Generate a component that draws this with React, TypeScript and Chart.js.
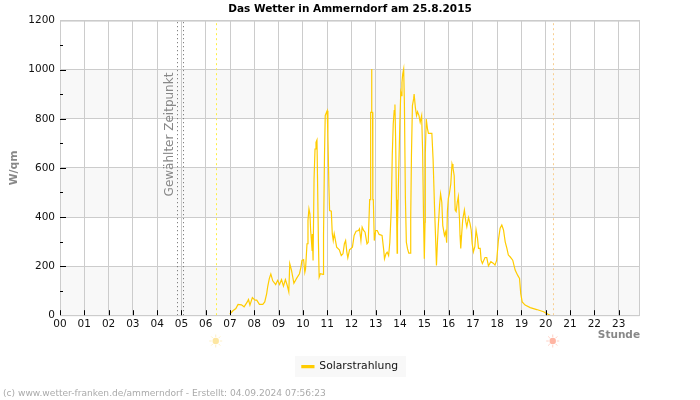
import React, { useEffect, useRef } from "react";
import { Chart, registerables } from "chart.js";

Chart.register(...registerables);

const hours = [
  6.99, 7.12, 7.24, 7.33, 7.47, 7.58, 7.71, 7.76, 7.82, 7.92, 8.03, 8.1, 8.21, 8.35, 8.43, 8.51, 8.55, 8.62, 8.68, 8.76,
  8.88, 8.96, 9.04, 9.12, 9.2, 9.28, 9.36, 9.42, 9.46, 9.53, 9.63, 9.74,
  9.86, 9.92, 9.96, 10.03, 10.08, 10.11, 10.17, 10.21, 10.25, 10.29, 10.32, 10.38, 10.39, 10.42, 10.46, 10.5, 10.54, 10.58, 10.6, 10.64,
  10.67, 10.72, 10.83, 10.85, 10.89, 10.92, 10.97, 11.0, 11.03, 11.07, 11.1, 11.17, 11.21, 11.25, 11.29, 11.33, 11.39, 11.5, 11.58, 11.65,
  11.71, 11.76, 11.81, 11.85, 11.92, 12.04, 12.11, 12.19, 12.29, 12.33, 12.39, 12.44, 12.5, 12.56, 12.64, 12.69, 12.75, 12.78, 12.79, 12.82,
  12.83, 12.84, 12.87, 12.88, 12.9, 12.94, 13.0, 13.06, 13.14, 13.26, 13.33, 13.36, 13.42, 13.47, 13.53, 13.58, 13.64, 13.68, 13.72, 13.76,
  13.79, 13.82, 13.85, 13.88, 13.89, 13.9, 13.94, 13.99, 14.03, 14.06, 14.08, 14.11, 14.15, 14.18, 14.22, 14.26, 14.31, 14.36, 14.42, 14.44,
  14.47, 14.51, 14.56, 14.58, 14.63, 14.68, 14.72, 14.78, 14.83, 14.89, 14.93, 14.97, 15.0, 15.03, 15.04, 15.08, 15.13, 15.17, 15.31, 15.36,
  15.42, 15.47, 15.5, 15.54, 15.58, 15.63, 15.67, 15.72, 15.76, 15.83, 15.88, 15.92, 15.95, 15.99, 16.03, 16.09, 16.14, 16.18, 16.23, 16.27,
  16.31, 16.36, 16.4, 16.45, 16.47, 16.5, 16.54, 16.58, 16.65, 16.71, 16.75, 16.82, 16.88, 16.93, 16.97, 17.02, 17.08, 17.13, 17.19, 17.23,
  17.3, 17.34, 17.39, 17.5, 17.57, 17.64, 17.74, 17.85, 17.91, 17.98, 18.05, 18.12, 18.19, 18.26, 18.33, 18.4, 18.46, 18.53, 18.64, 18.74,
  18.84, 18.92, 18.97, 19.03, 19.15, 19.36, 19.63, 19.91, 20.11, 20.18,
];
const solar = [
  4, 18, 27, 44, 42, 34, 54, 64, 41, 72, 61, 61, 44, 44, 54, 88, 115, 150, 168, 140,
  125, 142, 125, 145, 118, 145, 120, 95, 210, 184, 130, 150,
  169, 196, 223, 226, 175, 189, 291, 386, 433, 413, 345, 264, 331, 223, 555, 677, 704, 714, 575, 297,
  155, 169, 166, 325, 650, 813, 826, 833, 732, 528, 426, 424, 332, 304, 332, 311, 277, 266, 243, 250,
  291, 304, 257, 234, 266, 277, 325, 342, 345, 352, 304, 359, 345, 338, 291, 297, 471, 471, 826, 826,
  1003, 826, 826, 471, 471, 304, 345, 345, 329, 325, 264, 230, 250, 257, 243, 297, 433, 650, 779, 833,
  858, 711, 480, 253, 470, 359, 562, 772, 908, 894, 948, 982, 1003, 860, 481, 297, 270, 253, 253, 399,
  650, 854, 881, 901, 847, 813, 829, 813, 786, 813, 670, 379, 230, 379, 657, 799, 759, 741, 741, 637,
  440, 297, 203, 297, 372, 451, 494, 460, 365, 325, 340, 295, 422, 476, 494, 535, 616, 600, 568, 428,
  422, 462, 483, 388, 326, 272, 333, 388, 428, 380, 360, 398, 374, 347, 292, 258, 279, 347, 313, 272,
  272, 224, 211, 235, 235, 201, 218, 211, 204, 224, 306, 354, 367, 347, 299, 272, 245, 238, 224, 184,
  163, 150, 88, 54, 41, 31, 23, 14, 3, 0,
];
const selectedTimes = [4.838, 5.085];
const sunrise = 6.443;
const sunset = 20.318;
const bandRanges = [[800, 1000], [400, 600], [0, 200]];
const titleText = "Das Wetter in Ammerndorf am 25.8.2015";
const seriesName = "Solarstrahlung";
const markerLabel = "Gewählter Zeitpunkt";
const yTitle = "W/qm";
const xTitle = "Stunde";
const footerText = "(c) www.wetter-franken.de/ammerndorf - Erstellt: 04.09.2024 07:56:23";
const FONT = "'DejaVu Sans'";

function drawSun(ctx: CanvasRenderingContext2D, x: number, y: number, core: string, ray: string) {
  ctx.save();
  ctx.strokeStyle = ray;
  ctx.lineWidth = 1;
  for (let i = 0; i < 8; i++) {
    const a = (i * Math.PI) / 4;
    ctx.beginPath();
    ctx.moveTo(x + Math.cos(a) * 4, y + Math.sin(a) * 4);
    ctx.lineTo(x + Math.cos(a) * 6.5, y + Math.sin(a) * 6.5);
    ctx.stroke();
  }
  ctx.fillStyle = core;
  ctx.beginPath();
  ctx.arc(x, y, 3.2, 0, Math.PI * 2);
  ctx.fill();
  ctx.restore();
}

const decor = {
  id: "decor",
  beforeDraw(chart: any) {
    const { ctx, chartArea: a, scales } = chart;
    ctx.save();
    ctx.fillStyle = "#f8f8f8";
    for (const [lo, hi] of bandRanges) {
      const top = scales.y.getPixelForValue(hi);
      ctx.fillRect(a.left, top, a.right - a.left, scales.y.getPixelForValue(lo) - top);
    }
    ctx.fillRect(295, 356, 111, 21);
    ctx.restore();
  },
  afterDatasetsDraw(chart: any) {
    const { ctx, chartArea: a, scales } = chart;
    ctx.save();
    ctx.strokeStyle = "#cccccc";
    ctx.lineWidth = 1;
    ctx.beginPath();
    ctx.moveTo(a.left + 0.5, a.top + 0.5);
    ctx.lineTo(a.right - 0.5, a.top + 0.5);
    ctx.lineTo(a.right - 0.5, a.bottom + 0.5);
    ctx.lineTo(a.left + 0.5, a.bottom + 0.5);
    ctx.closePath();
    ctx.stroke();
    ctx.strokeStyle = "#000000";
    ctx.beginPath();
    for (const t of scales.x.ticks) {
      const x = Math.round(scales.x.getPixelForValue(t.value)) + 0.5;
      ctx.moveTo(x, a.bottom);
      ctx.lineTo(x, a.bottom - 5);
    }
    for (const t of scales.y.ticks) {
      const y = Math.round(scales.y.getPixelForValue(t.value)) + 0.5;
      if (t.value >= 1200 || t.value <= 0) continue;
      ctx.moveTo(a.left, y);
      ctx.lineTo(a.left + (t.value % 200 === 0 ? 6 : 3), y);
    }
    ctx.stroke();

    ctx.fillStyle = "#888888";
    ctx.font = `12px ${FONT}`;
    ctx.textAlign = "center";
    ctx.textBaseline = "middle";
    ctx.translate(scales.x.getPixelForValue(selectedTimes[0]) - 7.5, 134.5);
    ctx.rotate(-Math.PI / 2);
    ctx.fillText(markerLabel, 0, 0);
    ctx.restore();

    drawSun(ctx, scales.x.getPixelForValue(sunrise) - 0.75, 341, "#fde6a0", "#fdf0c8");
    drawSun(ctx, scales.x.getPixelForValue(sunset) - 0.75, 341, "#ffb5a3", "#ffd0c4");

    ctx.save();
    ctx.fillStyle = "#aaaaaa";
    ctx.font = `9.1px ${FONT}`;
    ctx.textAlign = "left";
    ctx.textBaseline = "middle";
    ctx.fillText(footerText, 3, 393.5);
    ctx.restore();
  },
};

export default function App() {
  const ref = useRef<HTMLCanvasElement>(null);
  useEffect(() => {
    const vline = (x: number, color: string, dash: number[]) => ({
      label: "",
      data: [{ x, y: 0 }, { x, y: 1200 }],
      borderColor: color,
      borderWidth: 1,
      borderDash: dash,
      pointRadius: 0,
      order: 2,
    });
    const chart = new Chart(ref.current as HTMLCanvasElement, {
      type: "line",
      data: {
        datasets: [
          {
            label: seriesName,
            data: hours.map((x, i) => ({ x, y: solar[i] })),
            borderColor: "#ffcc00",
            backgroundColor: "#ffcc00",
            borderWidth: 1.2,
            pointRadius: 0,
            tension: 0,
            order: 1,
          },
          vline(selectedTimes[0], "#666666", [1, 3]),
          vline(selectedTimes[1], "#666666", [1, 3]),
          vline(sunrise, "#ffee44", [2, 3]),
          vline(sunset, "#f8cf90", [2, 3]),
        ],
      },
      options: {
        responsive: false,
        animation: false,
        devicePixelRatio: 1,
        layout: { padding: { top: 0, right: 0, bottom: 18, left: 0 } },
        scales: {
          x: {
            type: "linear",
            min: 0,
            max: 23.88,
            afterFit: (s: any) => { s.height = 41; },
            grid: { color: "#cccccc", drawTicks: false },
            border: { display: false },
            title: {
              display: true,
              text: xTitle,
              align: "end",
              color: "#888888",
              font: { family: FONT, size: 10.5, weight: "bold" },
              padding: { top: 0, bottom: 15 },
            },
            ticks: {
              stepSize: 1,
              includeBounds: false,
              autoSkip: false,
              maxRotation: 0,
              padding: 3,
              color: "#111111",
              font: { family: FONT, size: 10.5 },
              callback: (v: any) => String(v).padStart(2, "0"),
            },
          },
          y: {
            min: 0,
            max: 1200,
            afterFit: (s: any) => { s.width = 60; },
            grid: {
              color: (c: any) => (c.tick && c.tick.value % 200 === 0 ? "#cccccc" : "rgba(0,0,0,0)"),
              drawTicks: false,
            },
            border: { display: false },
            title: {
              display: true,
              text: yTitle,
              color: "#888888",
              font: { family: FONT, size: 10.8, weight: "bold" },
              padding: { top: 8, bottom: 0 },
            },
            ticks: {
              stepSize: 100,
              autoSkip: false,
              padding: 5,
              color: "#111111",
              font: { family: FONT, size: 10.5 },
              callback: (v: any) => (v % 200 === 0 ? String(v) : ""),
            },
          },
          rightSpace: {
            position: "right",
            display: true,
            min: 0,
            max: 1,
            afterFit: (s: any) => { s.width = 60; },
            grid: { display: false },
            border: { display: false },
            ticks: { display: false },
          },
        },
        plugins: {
          tooltip: { enabled: false },
          title: {
            display: true,
            text: titleText,
            color: "#000000",
            font: { family: FONT, size: 10.5, weight: "bold" },
            padding: { top: 3, bottom: 5 },
          },
          legend: {
            display: true,
            position: "bottom",
            labels: {
              boxWidth: 12,
              boxHeight: 2,
              color: "#111111",
              font: { family: FONT, size: 10.8 },
              padding: 5,
              filter: (item: any) => item.text === seriesName,
            },
          },
        },
      },
      plugins: [decor],
    } as any);
    return () => chart.destroy();
  }, []);
  return (
    <canvas
      ref={ref}
      width={700}
      height={400}
      style={{ position: "absolute", left: 0, top: 0, width: 700, height: 400 }}
    />
  );
}
